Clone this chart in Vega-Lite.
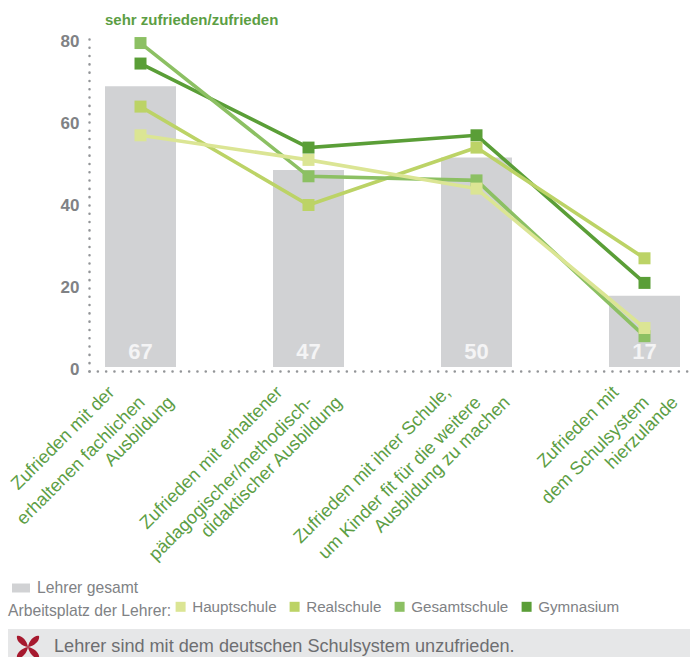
{
"$schema":"https://vega.github.io/schema/vega-lite/v6.json",
"padding":{"left":7,"top":12,"right":0,"bottom":0},
"background":"white",
"config":{"font":"Liberation Sans","view":{"stroke":null}},
"datasets":{
"bars":[{"k":"A","label":"Lehrer gesamt","v":67},{"k":"B","label":"Lehrer gesamt","v":47},{"k":"C","label":"Lehrer gesamt","v":50},{"k":"D","label":"Lehrer gesamt","v":17}],
"lines":[
{"k":"A","s":"Gymnasium","v":74.5},{"k":"B","s":"Gymnasium","v":54},{"k":"C","s":"Gymnasium","v":57},{"k":"D","s":"Gymnasium","v":21},
{"k":"A","s":"Realschule","v":64},{"k":"B","s":"Realschule","v":40},{"k":"C","s":"Realschule","v":54},{"k":"D","s":"Realschule","v":27},
{"k":"A","s":"Gesamtschule","v":79.5},{"k":"B","s":"Gesamtschule","v":47},{"k":"C","s":"Gesamtschule","v":46},{"k":"D","s":"Gesamtschule","v":8},
{"k":"A","s":"Hauptschule","v":57},{"k":"B","s":"Hauptschule","v":51},{"k":"C","s":"Hauptschule","v":44},{"k":"D","s":"Hauptschule","v":10}
],
"cats":[
{"k":"A","n":1,"t":"Zufrieden mit der"},{"k":"A","n":2,"t":"erhaltenen fachlichen"},{"k":"A","n":3,"t":"Ausbildung"},
{"k":"B","n":1,"t":"Zufrieden mit erhaltener"},{"k":"B","n":2,"t":"pädagogischer/methodisch-"},{"k":"B","n":3,"t":"didaktischer Ausbildung"},
{"k":"C","n":1,"t":"Zufrieden mit ihrer Schule,"},{"k":"C","n":2,"t":"um Kinder fit für die weitere"},{"k":"C","n":3,"t":"Ausbildung zu machen"},
{"k":"D","n":1,"t":"Zufrieden mit"},{"k":"D","n":2,"t":"dem Schulsystem"},{"k":"D","n":3,"t":"hierzulande"}
],
"note":[{"t":"Lehrer sind mit dem deutschen Schulsystem unzufrieden."}]
},
"width":601,"height":338,
"title":{"text":"sehr zufrieden/zufrieden","anchor":"start","frame":"group","dx":16,"offset":5,"fontSize":15,"fontWeight":"bold","color":"#5c9e44","font":"Liberation Sans"},
"resolve":{"scale":{"y":"independent","color":"independent","fill":"independent"},"axis":{"y":"independent"}},
"layer":[
{"data":{"name":"bars"},"mark":{"type":"bar","size":71},
"encoding":{
"x":{"field":"k","type":"nominal","sort":null,"scale":{"type":"point","padding":0.2887,"align":0.531},
"axis":{"title":null,"ticks":false,"labels":false,"domainColor":"#939598","domainWidth":2.5,"domainDash":[0.1,8.2],"domainCap":"round"}},
"y":{"field":"v","type":"quantitative","scale":{"domain":[-0.95,79.7],"nice":false,"zero":false},"axis":null},
"fill":{"field":"label","type":"nominal","scale":{"range":["#d1d2d4"]},"legend":{"title":null,"orient":"none","legendX":-77,"legendY":546,"symbolType":"M-1,-0.5H1V0.5H-1Z","symbolSize":324,"labelFontSize":15.7,"labelColor":"#808285","labelOffset":7,"symbolStrokeWidth":0}}
}},
{"data":{"name":"bars"},"mark":{"type":"text","fontSize":22,"fontWeight":"bold","color":"#f4f4f5","dy":-15},
"encoding":{
"x":{"field":"k","type":"nominal","sort":null,"scale":{"type":"point","padding":0.2887,"align":0.531}},
"y":{"datum":0,"type":"quantitative","scale":{"domain":[-0.95,79.7],"nice":false,"zero":false},"axis":null},
"text":{"field":"v","type":"quantitative"}
}},
{"data":{"name":"lines"},"mark":{"type":"line","strokeWidth":3.6},
"encoding":{
"x":{"field":"k","type":"nominal","sort":null,"scale":{"type":"point","padding":0.2887,"align":0.531}},
"y":{"field":"v","type":"quantitative","scale":{"domain":[-0.49,81.95],"nice":false,"zero":false},"axis":{"title":null,"values":[0,20,40,60,80],"ticks":false,"grid":false,"domainColor":"#939598","domainWidth":2.5,"domainDash":[0.1,8.2],"domainCap":"round","labelFontSize":17,"labelFontWeight":"bold","labelColor":"#808285","labelPadding":10,"labelOffset":1}},
"color":{"field":"s","type":"nominal","scale":{"domain":["Hauptschule","Realschule","Gesamtschule","Gymnasium"],"range":["#dbe594","#bcd366","#8cc063","#5a9e37"]},
"legend":{"title":"Arbeitsplatz der Lehrer:","orient":"none","direction":"horizontal","legendX":-81,"legendY":566,"titleOrient":"left","titleFontSize":15.7,"titleFontWeight":"normal","titleColor":"#808285","titlePadding":1,"labelFontSize":15.2,"labelColor":"#808285","symbolType":"square","symbolSize":4,"symbolStrokeWidth":8,"labelOffset":4,"columnPadding":0}}
}},
{"data":{"name":"lines"},"mark":{"type":"point","shape":"square","filled":true,"size":144,"opacity":1},
"encoding":{
"x":{"field":"k","type":"nominal","sort":null,"scale":{"type":"point","padding":0.2887,"align":0.531}},
"y":{"field":"v","type":"quantitative","scale":{"domain":[-0.49,81.95],"nice":false,"zero":false},"axis":null},
"color":{"field":"s","type":"nominal","scale":{"domain":["Hauptschule","Realschule","Gesamtschule","Gymnasium"],"range":["#dbe594","#bcd366","#8cc063","#5a9e37"]},"legend":null}
}},
{"data":{"name":"cats"},"transform":[{"filter":"datum.n==1"}],"mark":{"type":"text","angle":315,"align":"right","baseline":"middle","fontSize":18.2,"color":"#5c9e44","dx":-35,"dy":-5.3},
"encoding":{
"x":{"field":"k","type":"nominal","sort":null,"scale":{"type":"point","padding":0.2887,"align":0.531}},
"y":{"datum":0,"type":"quantitative","scale":{"domain":[-0.49,81.95],"nice":false,"zero":false},"axis":null},
"text":{"field":"t"}}},
{"data":{"name":"cats"},"transform":[{"filter":"datum.n==2"}],"mark":{"type":"text","angle":315,"align":"right","baseline":"middle","fontSize":18.2,"color":"#5c9e44","dx":-20.5,"dy":23.3},
"encoding":{
"x":{"field":"k","type":"nominal","sort":null,"scale":{"type":"point","padding":0.2887,"align":0.531}},
"y":{"datum":0,"type":"quantitative","scale":{"domain":[-0.49,81.95],"nice":false,"zero":false},"axis":null},
"text":{"field":"t"}}},
{"data":{"name":"cats"},"transform":[{"filter":"datum.n==3"}],"mark":{"type":"text","angle":315,"align":"right","baseline":"middle","fontSize":18.2,"color":"#5c9e44","dx":0,"dy":43.8},
"encoding":{
"x":{"field":"k","type":"nominal","sort":null,"scale":{"type":"point","padding":0.2887,"align":0.531}},
"y":{"datum":0,"type":"quantitative","scale":{"domain":[-0.49,81.95],"nice":false,"zero":false},"axis":null},
"text":{"field":"t"}}},
{"data":{"name":"note"},"mark":{"type":"rect","color":"#e6e7e8"},
"encoding":{"x":{"value":-81},"x2":{"value":601},"y":{"value":596},"y2":{"value":624}}},
{"data":{"name":"note"},"mark":{"type":"point","filled":true,"shape":"M-1,-1C-0.6,-1.1,-0.1,-0.6,0,0C-0.6,-0.1,-1.1,-0.6,-1,-1ZM1,-1C0.6,-1.1,0.1,-0.6,0,0C0.6,-0.1,1.1,-0.6,1,-1ZM-1,1C-0.6,1.1,-0.1,0.6,0,0C-0.6,0.1,-1.1,0.6,-1,1ZM1,1C0.6,1.1,0.1,0.6,0,0C0.6,0.1,1.1,0.6,1,1Z","color":"#a6192e","opacity":1},
"encoding":{"x":{"value":-61},"y":{"value":614},"size":{"value":484}}},
{"data":{"name":"note"},"mark":{"type":"text","align":"left","baseline":"middle","fontSize":18.1,"color":"#6d6e71"},
"encoding":{"text":{"field":"t"},"x":{"value":-35},"y":{"value":614}}}
]
}
